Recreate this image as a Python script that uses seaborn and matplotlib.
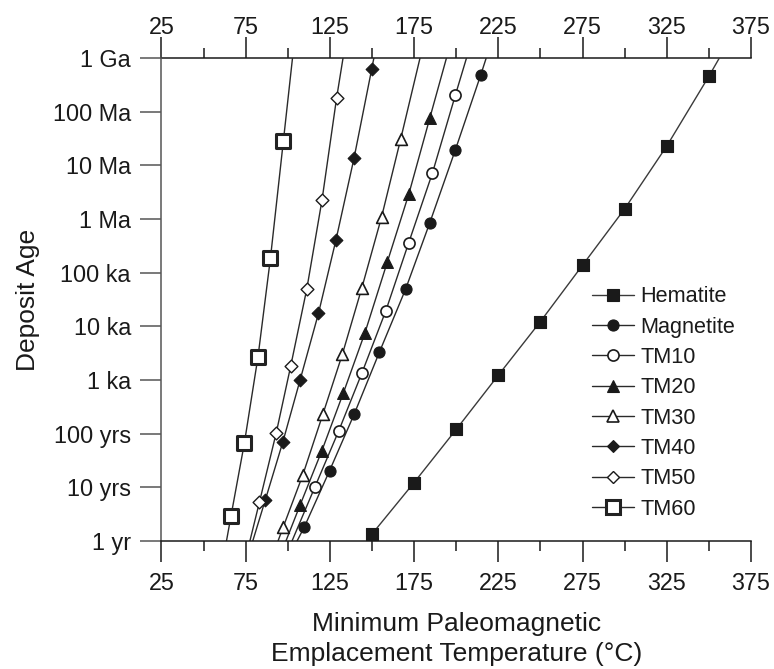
import numpy as np
import matplotlib
matplotlib.use("Agg")
import matplotlib.pyplot as plt
import seaborn as sns
from matplotlib.lines import Line2D
from matplotlib.ticker import FixedLocator, NullLocator

# ---------------- data ----------------
series = ["Hematite", "Magnetite", "TM10", "TM20", "TM30", "TM40", "TM50", "TM60"]

hematite_T = [150, 175, 200, 225, 250, 275, 300, 325, 350]
hematite_logage = [0.13, 1.09, 2.08, 3.09, 4.09, 5.14, 6.19, 7.36, 8.66]
magnetite_T = [109.8, 124.8, 139.5, 154.4, 169.9, 184.3, 199.5, 214.5]
magnetite_logage = [0.26, 1.31, 2.37, 3.52, 4.69, 5.93, 7.29, 8.68]
tm10_T = [116.0, 130.2, 144.0, 158.2, 171.7, 185.9, 199.5]
tm10_logage = [1.00, 2.05, 3.13, 4.29, 5.55, 6.86, 8.31]
tm20_T = [107.3, 120.2, 133.0, 145.8, 159.0, 171.9, 184.3]
tm20_logage = [0.67, 1.68, 2.76, 3.88, 5.19, 6.47, 7.88]
tm30_T = [97.4, 108.9, 120.8, 132.4, 143.9, 155.7, 167.1]
tm30_logage = [0.27, 1.23, 2.36, 3.48, 4.71, 6.04, 7.50]
tm40_T = [86.6, 97.1, 107.3, 118.2, 128.6, 139.3, 149.8]
tm40_logage = [0.76, 1.85, 3.00, 4.24, 5.61, 7.13, 8.79]
tm50_T = [83.2, 93.1, 101.8, 111.3, 120.3, 129.0]
tm50_logage = [0.73, 2.01, 3.27, 4.70, 6.35, 8.26]
tm60_T = [66.3, 74.2, 82.3, 89.7, 97.4]
tm60_logage = [0.47, 1.82, 3.43, 5.27, 7.46]

# temperature where each curve meets the 1 yr and 1 Ga edges
line_T_1yr = [147.1, 105.5, 102.5, 98.9, 94.2, 79.2, 77.5, 63.6]
line_T_1Ga = [356.2, 217.8, 206.1, 194.2, 178.5, 151.1, 132.8, 102.8]

age_ticks = [1, 1e1, 1e2, 1e3, 1e4, 1e5, 1e6, 1e7, 1e8, 1e9]
age_labels = ["1 yr", "10 yrs", "100 yrs", "1 ka", "10 ka", "100 ka",
              "1 Ma", "10 Ma", "100 Ma", "1 Ga"]
temp_ticks = [25, 75, 125, 175, 225, 275, 325, 375]
temp_minor = [50, 100, 150, 200, 250, 300, 350]

# ---------------- style ----------------
sns.set_theme(style="ticks")
plt.rcParams["font.family"] = ["Liberation Sans", "DejaVu Sans"]
INK = "#1a1a1a"

styles = {
    "Hematite":  dict(marker="s", ms=8.5, face=INK, edge=INK, mew=0.8, lc="#3a3a3a"),
    "Magnetite": dict(marker="o", ms=8.0, face=INK, edge=INK, mew=0.8, lc="#2a2a2a"),
    "TM10":      dict(marker="o", ms=8.0, face="white", edge=INK, mew=1.2, lc="#2a2a2a"),
    "TM20":      dict(marker="^", ms=8.5, face=INK, edge=INK, mew=0.8, lc="#2a2a2a"),
    "TM30":      dict(marker="^", ms=8.5, face="white", edge=INK, mew=1.2, lc="#2a2a2a"),
    "TM40":      dict(marker="D", ms=6.5, face=INK, edge=INK, mew=0.8, lc="#2a2a2a"),
    "TM50":      dict(marker="D", ms=6.5, face="white", edge=INK, mew=1.0, lc="#2a2a2a"),
    "TM60":      dict(marker="s", ms=9.8, face="white", edge="#222222", mew=2.2, lc="#2a2a2a"),
}

data_T = [hematite_T, magnetite_T, tm10_T, tm20_T, tm30_T, tm40_T, tm50_T, tm60_T]
data_L = [hematite_logage, magnetite_logage, tm10_logage, tm20_logage,
          tm30_logage, tm40_logage, tm50_logage, tm60_logage]

fig, ax = plt.subplots(figsize=(7.74, 6.69), dpi=100)
fig.subplots_adjust(left=0.2086, right=0.9703, bottom=0.1913, top=0.9133)
ax.set_yscale("log")

for name, T, L, t0, t1 in zip(series, data_T, data_L, line_T_1yr, line_T_1Ga):
    st = styles[name]
    ages = list(10 ** np.array(L))
    lx = [t0] + list(T) + [t1]
    ly = [1.0] + ages + [1e9]
    sns.lineplot(x=lx, y=ly, ax=ax, color=st["lc"], lw=1.0, sort=False,
                 estimator=None, legend=False, zorder=2)
    sns.scatterplot(x=T, y=ages, ax=ax, marker=st["marker"], s=st["ms"] ** 2,
                    color=st["face"], edgecolor=st["edge"], linewidth=st["mew"],
                    legend=False, zorder=3, clip_on=False)

ax.set_xlim(25, 375)
ax.set_ylim(1, 1e9)

# ticks
ax.xaxis.set_major_locator(FixedLocator(temp_ticks))
ax.xaxis.set_minor_locator(FixedLocator(temp_minor))
ax.set_xticklabels([str(t) for t in temp_ticks])
ax.yaxis.set_major_locator(FixedLocator(age_ticks))
ax.yaxis.set_minor_locator(NullLocator())
ax.set_yticklabels(age_labels)

ax.tick_params(axis="x", which="major", direction="out", length=15, width=1.1,
               color=INK, labelsize=16.8, labelcolor=INK, pad=7)
ax.tick_params(axis="x", which="minor", direction="out", length=7.5, width=1.1, color=INK)
ax.tick_params(axis="y", which="major", direction="out", length=15, width=1.1,
               color="#555555", labelsize=16.8, labelcolor=INK, pad=7)

for side in ["right", "top"]:
    ax.spines[side].set_visible(False)
ax.spines["bottom"].set_color(INK)
ax.spines["bottom"].set_linewidth(1.1)
ax.spines["left"].set_color("#555555")
ax.spines["left"].set_linewidth(1.1)

sec = ax.secondary_xaxis("top")
sec.xaxis.set_major_locator(FixedLocator(temp_ticks))
sec.xaxis.set_minor_locator(FixedLocator(temp_minor))
sec.set_xticklabels([str(t) for t in temp_ticks])
sec.tick_params(axis="x", which="major", direction="out", length=15, width=1.1,
                color=INK, labelsize=16.8, labelcolor=INK, pad=-1.5)
sec.tick_params(axis="x", which="minor", direction="out", length=7.5, width=1.1, color=INK)
sec.spines["top"].set_color(INK)
sec.spines["top"].set_linewidth(1.1)

# axis labels
ax.set_xlabel("Minimum Paleomagnetic\nEmplacement Temperature (°C)",
              fontsize=19, color=INK, linespacing=1.32)
ax.xaxis.set_label_coords(0.5, -0.147)
ax.set_ylabel("Deposit Age", fontsize=19, color=INK, va="center")
ax.yaxis.set_label_coords(-0.226, 0.5)

# legend
handles = []
for name in series:
    st = styles[name]
    handles.append(Line2D([0], [0], color=st["lc"], lw=1.0, marker=st["marker"],
                          markersize=st["ms"], markerfacecolor=st["face"],
                          markeredgecolor=st["edge"], markeredgewidth=st["mew"]))
leg = ax.legend(handles, series, loc="center left",
                bbox_to_anchor=(591.7 / 774, 1 - 403.0 / 669),
                bbox_transform=fig.transFigure, frameon=False, fontsize=15.6,
                handlelength=1.93, handletextpad=0.31, labelspacing=0.43,
                borderpad=0, borderaxespad=0)
for t in leg.get_texts():
    t.set_color(INK)

fig.savefig("out.png", dpi=100)
